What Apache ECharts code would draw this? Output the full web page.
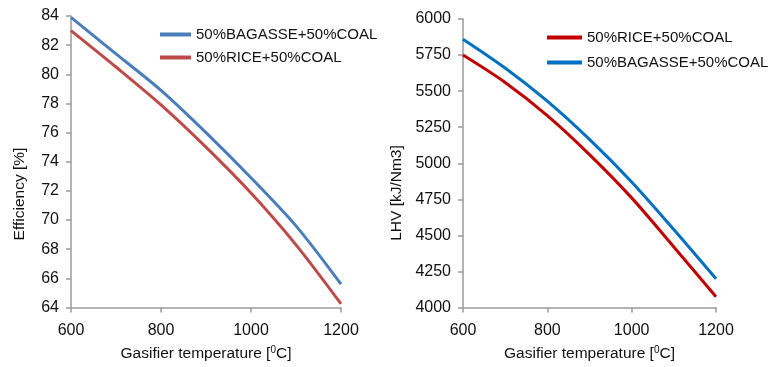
<!DOCTYPE html>
<html>
<head>
<meta charset="utf-8">
<script src="https://cdn.jsdelivr.net/npm/echarts@6/dist/echarts.min.js"></script>
<style>
  html, body { margin: 0; padding: 0; background: #fff; }
  #chart { width: 773px; height: 367px; }
</style>
</head>
<body>
<div id="chart"></div>
<script>
// Gasifier temperature samples (°C)
const temps = [600, 700, 800, 900, 1000, 1100, 1200];

// Cold-gas efficiency [%]
const effBagasse = [83.9, 81.4, 78.9, 76.0, 72.9, 69.6, 65.6];
const effRice    = [83.0, 80.5, 77.9, 75.0, 71.85, 68.3, 64.25];

// Lower heating value of the product gas [kJ/Nm3]
const lhvRice    = [5750, 5560, 5330, 5060, 4760, 4420, 4075];
const lhvBagasse = [5860, 5660, 5430, 5165, 4870, 4540, 4200];

const nameBagasse = '50%BAGASSE+50%COAL';
const nameRice = '50%RICE+50%COAL';

const xTicks = { min: 600, max: 1200, interval: 200 };
const effTicks = { min: 64, max: 84, interval: 2 };
const lhvTicks = { min: 4000, max: 6000, interval: 250 };

const colors = {
  leftBlue: '#4a7ebb',
  leftRed: '#be4b48',
  rightRed: '#c00000',
  rightBlue: '#0070c0'
};

const FONT = 'Liberation Sans, Arial, Helvetica, sans-serif';
const axisGray = '#9a9a9a';

const pairs = (xs, ys) => xs.map((x, i) => [x, ys[i]]);
const plain = v => String(v);

function xAxisFor(gridIndex) {
  return {
    type: 'value', gridIndex,
    min: xTicks.min, max: xTicks.max, interval: xTicks.interval,
    axisLine: { show: true, lineStyle: { color: axisGray, width: 1.5 } },
    axisTick: { show: true, length: 5, lineStyle: { color: axisGray, width: 1.5 } },
    axisLabel: { color: '#111', fontSize: 16, fontFamily: FONT, margin: 15, formatter: plain },
    splitLine: { show: false },
    name: 'Gasifier temperature [{sup|0}C]',
    nameLocation: 'middle', nameGap: 38,
    nameTextStyle: {
      color: '#111', fontSize: 15.5, fontFamily: FONT,
      rich: { sup: { fontSize: 10, fontFamily: FONT, color: '#111', verticalAlign: 'bottom', padding: [0, 0, 7, 0] } }
    }
  };
}

function yAxisFor(gridIndex, t) {
  return {
    type: 'value', gridIndex,
    min: t.min, max: t.max, interval: t.interval,
    axisLine: { show: true, lineStyle: { color: axisGray, width: 1.5 } },
    axisTick: { show: true, length: 5, lineStyle: { color: axisGray, width: 1.5 } },
    axisLabel: { color: '#111', fontSize: 16, fontFamily: FONT, margin: 12, formatter: plain },
    splitLine: { show: false }
  };
}

function lineSeries(name, xi, yi, data, color) {
  return {
    type: 'line', name, xAxisIndex: xi, yAxisIndex: yi,
    data, smooth: 0.3,
    symbol: 'none', animation: false,
    lineStyle: { color, width: 3 },
    itemStyle: { color }
  };
}

function legendItem(name, color) {
  return { name, icon: 'rect', itemStyle: { color }, lineStyle: { color } };
}

const chart = echarts.init(document.getElementById('chart'), null, { renderer: 'canvas' });

chart.setOption({
  animation: false,
  backgroundColor: '#ffffff',
  grid: [
    { left: 71, top: 16, width: 270, height: 295 },
    { left: 463, top: 19, width: 253, height: 292 }
  ],
  xAxis: [xAxisFor(0), xAxisFor(1)],
  yAxis: [yAxisFor(0, effTicks), yAxisFor(1, lhvTicks)],
  legend: [
    {
      left: 155, top: 22, orient: 'vertical', itemGap: 8,
      itemWidth: 31, itemHeight: 4,
      textStyle: { color: '#111', fontSize: 15, fontFamily: FONT },
      selectedMode: false,
      data: [legendItem(nameBagasse, colors.leftBlue), legendItem(nameRice, colors.leftRed)]
    },
    {
      left: 542, top: 25, orient: 'vertical', itemGap: 10,
      itemWidth: 35, itemHeight: 4,
      textStyle: { color: '#111', fontSize: 15, fontFamily: FONT },
      selectedMode: false,
      data: [legendItem(nameRice, colors.rightRed), legendItem(nameBagasse, colors.rightBlue)]
    }
  ],
  graphic: [
    {
      type: 'text', x: 20, y: 194, rotation: Math.PI / 2,
      style: { text: 'Efficiency [%]', font: '15.5px ' + FONT, fill: '#111', align: 'center', verticalAlign: 'middle' }
    },
    {
      type: 'text', x: 397, y: 193, rotation: Math.PI / 2,
      style: { text: 'LHV [kJ/Nm3]', font: '15.5px ' + FONT, fill: '#111', align: 'center', verticalAlign: 'middle' }
    }
  ],
  series: [
    lineSeries(nameBagasse, 0, 0, pairs(temps, effBagasse), colors.leftBlue),
    lineSeries(nameRice, 0, 0, pairs(temps, effRice), colors.leftRed),
    lineSeries(nameRice, 1, 1, pairs(temps, lhvRice), colors.rightRed),
    lineSeries(nameBagasse, 1, 1, pairs(temps, lhvBagasse), colors.rightBlue)
  ]
});
</script>
</body>
</html>
